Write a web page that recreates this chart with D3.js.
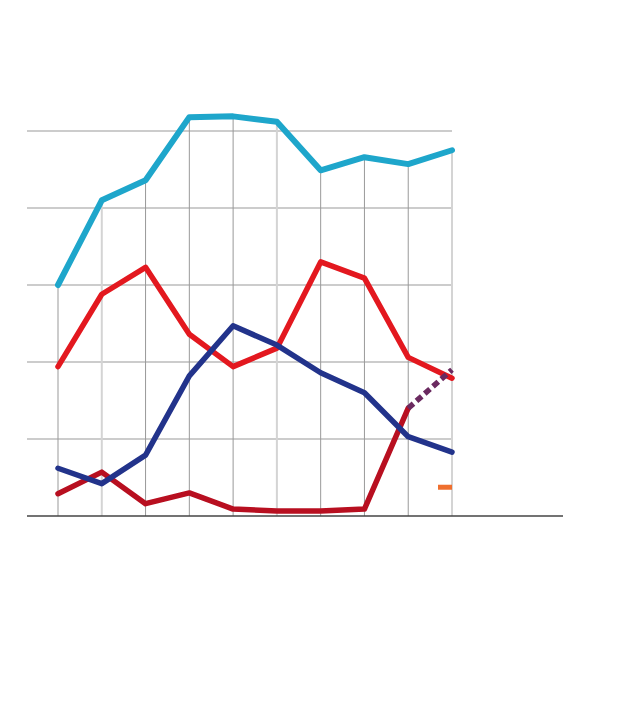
<!DOCTYPE html>
<html><head><meta charset="utf-8">
<script src="https://cdn.jsdelivr.net/npm/d3@7"></script>
<style>html,body{margin:0;padding:0;background:#fff}</style>
</head><body>
<script>
const periods = [0,1,2,3,4,5,6,7,8,9];
const yTicks = [0,10,20,30,40,50];
const cyanSeries   = [30.0,41.0,43.6,51.8,51.9,51.2,44.9,46.6,45.7,47.5];
const redSeries    = [19.4,28.8,32.3,23.6,19.4,21.8,33.0,30.9,20.6,17.9];
const navySeries   = [6.2,4.2,7.9,18.2,24.7,22.2,18.6,16.0,10.3,8.3];
const darkRedSeries= [2.9,5.7,1.6,3.0,0.9,0.65,0.65,0.9,14.0,null];
const purpleDashed = [null,null,null,null,null,null,null,null,14.0,19.0];
const orangeMark   = [null,null,null,null,null,null,null,null,null,3.8];
const lightDrop    = [1,5,9];

const W=640,H=704;
const svg=d3.select("body").append("svg").attr("width",W).attr("height",H);
const x=d3.scaleLinear().domain([0,9]).range([58,452]);
const y=d3.scaleLinear().domain([0,50]).range([516,131]);

// horizontal grid
svg.append("g").selectAll("line").data(yTicks.filter(d=>d>0)).join("line")
  .attr("x1",27).attr("x2",452).attr("y1",d=>y(d)).attr("y2",d=>y(d))
  .attr("stroke","#999").attr("stroke-width",1);

// drop lines from top series
svg.append("g").selectAll("line").data(periods).join("line")
  .attr("x1",d=>x(d)).attr("x2",d=>x(d)).attr("y1",y(0)).attr("y2",d=>y(cyanSeries[d]))
  .attr("stroke",d=>lightDrop.includes(d)?"#d4d4d4":"#999")
  .attr("stroke-width",d=>lightDrop.includes(d)?2:1);

// baseline
svg.append("line").attr("x1",27).attr("x2",563).attr("y1",y(0)).attr("y2",y(0))
  .attr("stroke","#444").attr("stroke-width",1.5);

const line=d3.line().defined(d=>d[1]!=null).x(d=>x(d[0])).y(d=>y(d[1]));
function draw(vals,color,w,dash){
  const p=svg.append("path").datum(vals.map((v,i)=>[i,v]))
    .attr("d",line).attr("fill","none").attr("stroke",color)
    .attr("stroke-width",w).attr("stroke-linejoin","round").attr("stroke-linecap",dash?"butt":"round");
  if(dash) p.attr("stroke-dasharray",dash);
}
draw(cyanSeries,"#1ea6cb",6);
draw(redSeries,"#e3181f",5.5);
draw(darkRedSeries,"#b80f20",5.5);
draw(purpleDashed,"#6b2a60",5.5,"7,4");
draw(navySeries,"#22338b",5.5);

// orange marker
svg.append("g").selectAll("rect").data(orangeMark.map((v,i)=>[i,v]).filter(d=>d[1]!=null)).join("rect")
  .attr("x",d=>x(d[0])-14).attr("y",d=>y(d[1])-2).attr("width",14).attr("height",5)
  .attr("fill","#ef6f2e");
</script>
</body></html>
